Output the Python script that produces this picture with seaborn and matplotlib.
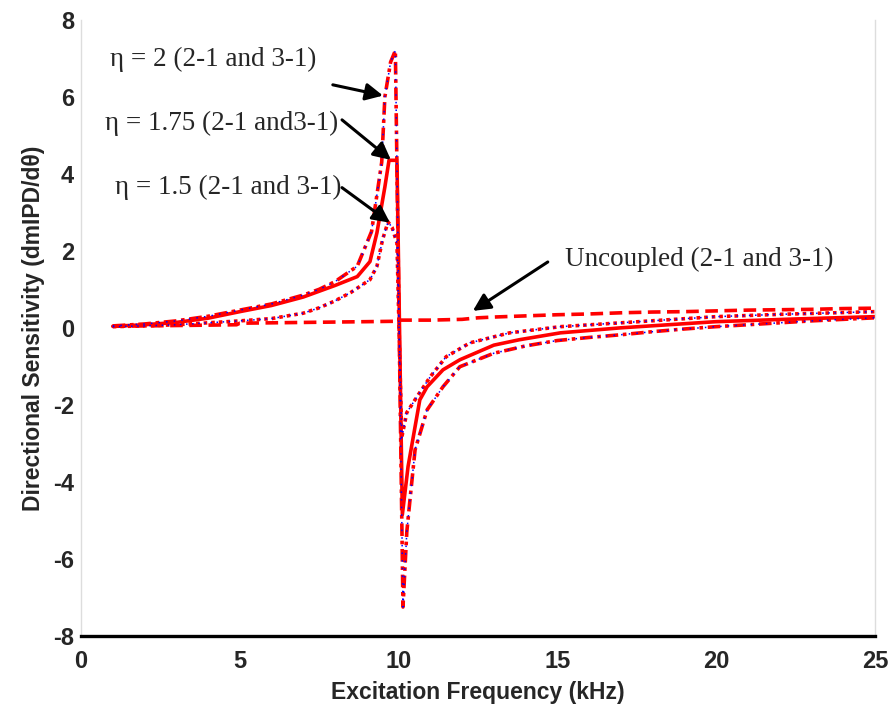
import numpy as np
import pandas as pd
import matplotlib
matplotlib.use("Agg")
import matplotlib.pyplot as plt
import seaborn as sns

# Excitation frequency (kHz) and directional sensitivity for each coupling case
freq_unc = [1, 2, 3, 4, 4.9, 5.0, 6, 7, 8, 9, 9.9, 10.0, 11, 12, 12.5, 13, 14, 15,
            16, 17, 18, 19, 20, 21, 22, 23, 24, 25]
sens_unc = [0.04, 0.05, 0.06, 0.07, 0.08, 0.12, 0.13, 0.14, 0.15, 0.16, 0.17, 0.2,
            0.2, 0.22, 0.26, 0.28, 0.31, 0.34, 0.36, 0.39, 0.41, 0.42, 0.44, 0.46,
            0.47, 0.48, 0.5, 0.51]

freq_15 = [1, 2, 3, 4, 5, 6, 7, 7.5, 8, 8.5, 9.1, 9.32, 9.5, 9.67, 9.8, 9.95,
           10.1, 10.26, 10.58, 11.0, 11.5, 12.25, 13.5, 15.1, 17, 20, 22, 25]
sens_15 = [0.03, 0.05, 0.08, 0.13, 0.18, 0.24, 0.38, 0.52, 0.7, 0.92, 1.25, 1.6,
           2.3, 2.75, 2.6, 2.2, -2.85, -2.2, -1.79, -1.27, -0.75, -0.39, -0.13,
           0.03, 0.13, 0.29, 0.35, 0.42]

freq_175 = [1, 2, 3, 4, 5, 6, 7, 8, 8.7, 9.1, 9.32, 9.57, 9.7, 9.95, 10.12, 10.3,
            10.52, 10.67, 10.9, 11.4, 11.93, 13, 13.8, 15.1, 17, 20, 22.5, 25]
sens_175 = [0.04, 0.08, 0.14, 0.25, 0.42, 0.58, 0.8, 1.1, 1.33, 1.72, 2.47, 3.66,
            4.35, 4.35, -4.85, -3.6, -2.57, -1.87, -1.53, -1.09, -0.83, -0.45,
            -0.31, -0.13, 0.0, 0.16, 0.23, 0.29]

freq_20 = [1, 2, 3, 4, 5, 6, 7, 7.5, 8, 8.7, 9.15, 9.47, 9.57, 9.75, 9.9, 10.14,
           10.26, 10.36, 10.52, 10.9, 11.4, 11.93, 13, 14, 15, 16, 17, 18, 19,
           20, 21, 22, 23, 24, 25]
sens_20 = [0.05, 0.1, 0.18, 0.3, 0.46, 0.62, 0.85, 1.0, 1.2, 1.6, 2.5, 4.3, 6.0,
           6.9, 7.2, -7.25, -5.3, -4.47, -3.17, -2.13, -1.53, -1.01, -0.66, -0.47,
           -0.33, -0.25, -0.18, -0.1, -0.03, 0.03, 0.08, 0.13, 0.18, 0.22, 0.26]

x_ticks = [0, 5, 10, 15, 20, 25]
y_ticks = [-8, -6, -4, -2, 0, 2, 4, 6, 8]

sns.set_style("white")
plt.rcParams["font.family"] = ["Liberation Sans", "DejaVu Sans"]

fig = plt.figure(figsize=(8.9, 7.05), dpi=100)
ax = fig.add_axes([0.091, 0.098, 0.892, 0.874])

red = "#ff0000"
blue = "#0000ff"
lw = 2.6

sns.lineplot(x=freq_unc, y=sens_unc, ax=ax, color=red, lw=lw, sort=False,
             estimator=None, linestyle=(0, (3.5, 1.8)))
sns.lineplot(x=freq_15, y=sens_15, ax=ax, color=red, lw=lw, sort=False,
             estimator=None, linestyle=(0, (1, 1.1)))
sns.lineplot(x=freq_175, y=sens_175, ax=ax, color=red, lw=lw, sort=False,
             estimator=None, linestyle="-")
sns.lineplot(x=freq_20, y=sens_20, ax=ax, color=red, lw=lw, sort=False,
             estimator=None, linestyle=(0, (3.5, 1.3, 1, 1.3)))

# 3-1 pairs overlap the 2-1 curves; drawn as fine blue dots on top
sns.lineplot(x=freq_15, y=sens_15, ax=ax, color=blue, lw=1.1, sort=False,
             estimator=None, linestyle=(0, (1, 3)))
sns.lineplot(x=freq_20, y=sens_20, ax=ax, color=blue, lw=1.1, sort=False,
             estimator=None, linestyle=(0, (1, 4)))

ax.set_xlim(0, 25)
ax.set_ylim(-8, 8)
ax.set_xticks(x_ticks)
ax.set_yticks(y_ticks)
ax.set_xticklabels([str(t) for t in x_ticks], fontsize=17, fontweight="bold")
ax.set_yticklabels([str(t) for t in y_ticks], fontsize=17, fontweight="bold")
ax.tick_params(axis="x", length=0, pad=10)
ax.tick_params(axis="y", length=0, pad=5)

ax.set_xlabel("Excitation Frequency (kHz)", fontsize=16.5, fontweight="bold", labelpad=6)
ax.set_ylabel("Directional Sensitivity (dmIPD/d\u03b8)", fontsize=16.5,
              fontweight="bold", labelpad=6)

for side in ("left", "right"):
    ax.spines[side].set_color("#dddddd")
    ax.spines[side].set_linewidth(1.0)
ax.spines["top"].set_visible(False)
ax.spines["bottom"].set_color("black")
ax.spines["bottom"].set_linewidth(2.4)

serif = ["Liberation Serif", "DejaVu Serif"]
arrow = dict(arrowstyle="-|>", color="black", lw=2.2, mutation_scale=26,
             shrinkA=0, shrinkB=0)
labels = [
    ("\u03b7 = 2 (2-1 and 3-1)", (0.91, 6.96), (7.93, 6.31), (9.51, 6.03)),
    ("\u03b7 = 1.75 (2-1 and3-1)", (0.76, 5.32), (8.22, 5.40), (9.76, 4.36)),
    ("\u03b7 = 1.5 (2-1 and 3-1)", (1.07, 3.64), (8.22, 3.64), (9.73, 2.73)),
    ("Uncoupled (2-1 and 3-1)", (15.24, 1.77), (14.7, 1.71), (12.34, 0.44)),
]
for text, pos, start, end in labels:
    ax.text(pos[0], pos[1], text, family=serif, fontsize=19.5, va="center", ha="left")
    ax.annotate("", xy=end, xytext=start, arrowprops=arrow)

fig.savefig("out.png", dpi=100)
